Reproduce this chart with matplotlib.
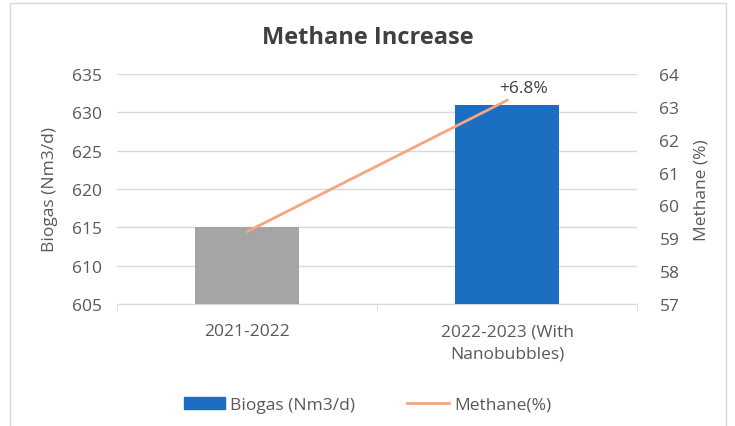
import matplotlib.pyplot as plt
from matplotlib.patches import Rectangle, Patch

plt.rcParams['font.family'] = ['Open Sans', 'DejaVu Sans']

categories = ['2021-2022', '2022-2023 (With\nNanobubbles)']
biogas = [615, 631]
methane = [59.2, 63.2]
bar_colors = ['#A5A5A5', '#1B6EC2']
txt = '#595959'
fs = 12.5

fig = plt.figure(figsize=(7.35, 4.27), dpi=100)
ax = fig.add_axes([0.159, 0.2857, 0.708, 0.5387])
ax2 = ax.twinx()

x = list(range(len(categories)))
ax.bar(x, biogas, width=0.4, color=bar_colors, zorder=3)
ax.set_ylim(605, 635)
ax.set_yticks(range(605, 636, 5))
ax.set_xlim(-0.5, 1.5)
ax.set_xticks(x)
ax.set_xticklabels(categories, color=txt, fontsize=fs, linespacing=1.5)
ax.set_xticks([-0.5, 0.5, 1.5], minor=True)
ax.tick_params(axis='x', which='major', length=0, pad=14)
ax.tick_params(axis='x', which='minor', length=5, color='#D9D9D9')
ax.tick_params(axis='y', length=0, labelcolor=txt, labelsize=fs, pad=11)
ax.grid(axis='y', color='#D9D9D9', lw=1, zorder=0)
for s in ['top', 'left', 'right']:
    ax.spines[s].set_visible(False)
ax.spines['bottom'].set_color('#D9D9D9')
ax.set_ylabel('Biogas (Nm3/d)', color=txt, fontsize=fs, labelpad=10)

ax2.plot(x, methane, color='#F4A582', lw=2, zorder=4)
ax2.set_ylim(57, 64)
ax2.set_yticks(range(57, 65))
ax2.tick_params(axis='y', length=0, labelcolor=txt, labelsize=fs, pad=16)
for s in ax2.spines.values():
    s.set_visible(False)
ax2.set_ylabel('Methane (%)', color=txt, fontsize=fs, labelpad=10)
ax2.annotate('+6.8%', (x[1], methane[1]), xytext=(12, 3), textcoords='offset points',
             ha='center', va='bottom', color='#404040', fontsize=fs)

fig.suptitle('Methane Increase', x=0.5, y=0.94, fontsize=17, fontweight='bold', color='#404040')

handles = [Patch(color='#1B6EC2'), plt.Line2D([], [], color='#F4A582', lw=2)]
fig.legend(handles, ['Biogas (Nm3/d)', 'Methane(%)'], loc='center', bbox_to_anchor=(0.5, 0.05),
           ncol=2, frameon=False, fontsize=fs, labelcolor=txt, handlelength=2.4,
           handletextpad=0.3, columnspacing=3)

fig.patches.append(Rectangle((0.013, -0.02), 0.975, 1.01, transform=fig.transFigure,
                             fill=False, edgecolor='#D9D9D9', lw=1))

fig.savefig('out.png', dpi=100)
